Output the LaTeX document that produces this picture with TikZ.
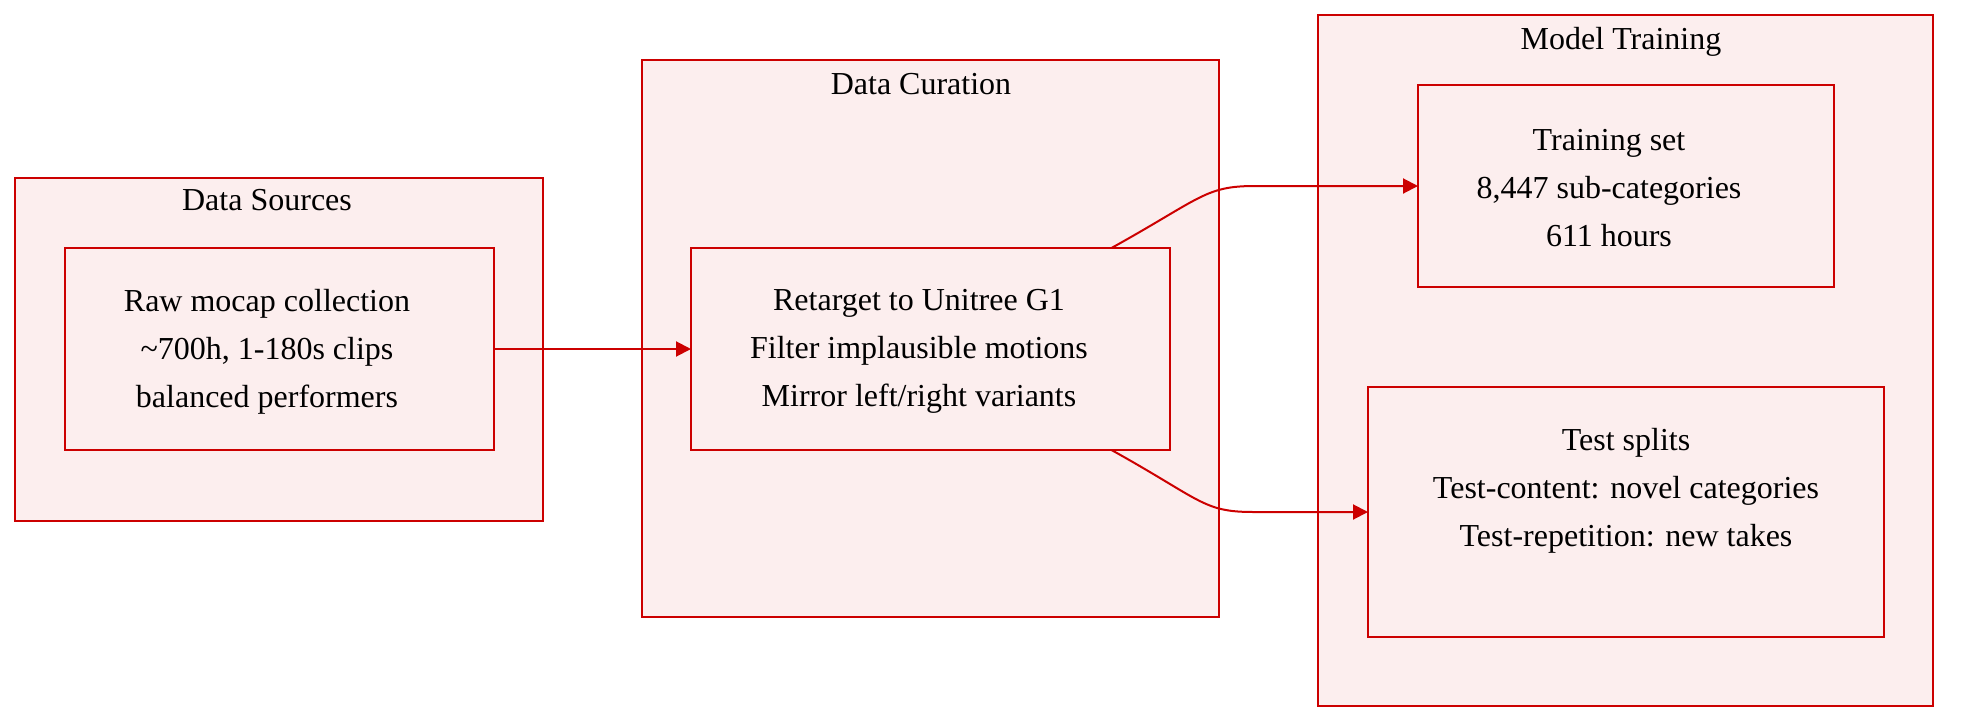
\documentclass[tikz,border=0pt]{standalone}
\usepackage{fontspec}
\setmainfont{Liberation Serif}
\usetikzlibrary{arrows.meta}
\definecolor{stroke}{RGB}{204,0,0}
\definecolor{boxfill}{RGB}{252,238,238}
\tikzset{
  box/.style={draw=stroke, fill=boxfill, line width=2pt, inner sep=0pt, outer sep=0pt, rectangle},
  txt/.style={font=\fontsize{32}{48}\selectfont, align=center, inner sep=0pt, text=black},
  ttl/.style={font=\fontsize{32}{48}\selectfont, inner sep=0pt, anchor=base, text=black},
  edge/.style={draw=stroke, line width=2pt, -{Triangle[length=15pt,width=15pt]}},
}
\newcommand{\bx}[6]{% name, x1, y1, x2, y2, extra
  \node[box, minimum width={#4-#2}, minimum height={#5-#3}, #6] (#1) at ({(#2+#4)/2},{(#3+#5)/2}) {};}
\begin{document}
\begin{tikzpicture}[x=1pt, y=-1pt]
\useasboundingbox (0,0) rectangle (1966,728);
% outer groups
\bx{ds}{15}{178}{543}{521}{}
\bx{dc}{642}{60}{1219}{617}{}
\bx{mt}{1318}{15}{1933}{706}{}
\node[ttl] (dst) at (267,210) {Data Sources};
\node[ttl] (dct) at (921,94) {Data Curation};
\node[ttl] (mtt) at (1621,49) {Model Training};
% inner boxes
\bx{raw}{65}{248}{494}{450}{}
\bx{ret}{691}{248}{1170}{450}{}
\bx{train}{1418}{85}{1834}{287}{}
\bx{test}{1368}{387}{1884}{637}{}
\node[txt] (rawt) at (267,351.5) {Raw mocap collection\\\textasciitilde700h, 1-180s clips\\balanced performers};
\node[txt] (rett) at (919,351.5) {Retarget to Unitree G1\\Filter implausible motions\\Mirror left/right variants};
\node[txt] (traint) at (1609,188) {Training set\\8,447 sub-categories\\611 hours};
\node[txt] (testt) at (1626,490.5) {Test splits\\Test-content: novel categories\\Test-repetition: new takes};
% connectors
\draw[edge] (raw.east) -- (ret.west);
\draw[edge] ([xshift=181pt]ret.north) .. controls +(90,-50) and +(-50,0) .. ([xshift=-163pt]train.west) -- (train.west);
\draw[edge] ([xshift=181pt]ret.south) .. controls +(90,50) and +(-50,0) .. ([xshift=-115pt]test.west) -- (test.west);
\end{tikzpicture}
\end{document}
